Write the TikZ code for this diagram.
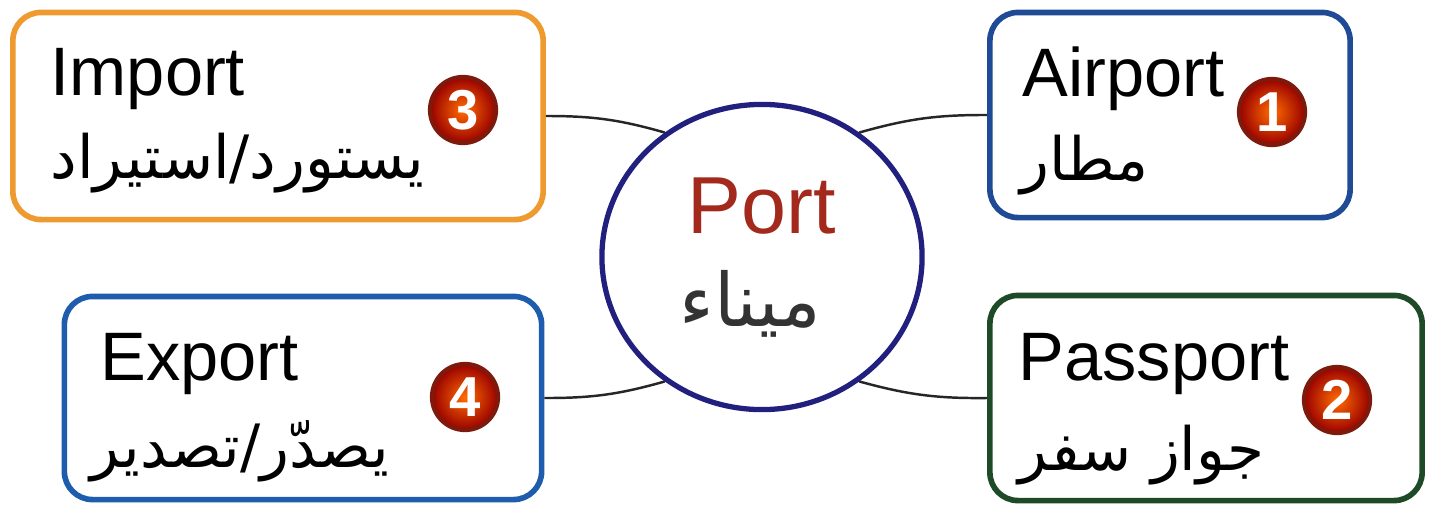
\documentclass[tikz,border=0pt]{standalone}
\usepackage{fontspec}
\setmainfont{Liberation Sans}
\newfontfamily\arabicfont[Script=Arabic]{DejaVu Sans}
\TeXXeTstate=1
\usepackage{tikz}
\usetikzlibrary{shapes.geometric}
\usetikzlibrary{positioning}
\definecolor{importorange}{HTML}{EE9A2E}
\definecolor{airportblue}{HTML}{1F4A96}
\definecolor{exportblue}{HTML}{1E5CAE}
\definecolor{passgreen}{HTML}{1E4A28}
\definecolor{portnavy}{HTML}{22207E}
\definecolor{portred}{HTML}{A3291C}
\definecolor{badgerim}{HTML}{7E1A0C}

\begin{document}
\begin{tikzpicture}[x=0.01cm,y=-0.01cm,
    topic/.style={draw, rounded corners=8pt, line width=1.6pt, fill=white},
    hub/.style={ellipse, draw=portnavy, line width=1.5pt, minimum width=3.20cm, minimum height=3.05cm},
    word/.style={anchor=base west, inner sep=0pt, font=\fontsize{19.5}{24}\selectfont},
    arab/.style={anchor=base west, inner sep=0pt, font=\fontsize{17}{21}\selectfont\arabicfont},
    badge/.style={circle, draw=badgerim, line width=1.2pt, inner color=orange!85!red, outer color=red!60!black, text=white, minimum size=0.66cm, inner sep=0pt, font=\bfseries\fontsize{16}{16}\selectfont},
    link/.style={line width=0.7pt, black!85}]
  \useasboundingbox (0,0) rectangle (1434,509);
  % the four boxes
  \node[topic, draw=importorange, minimum width=5.30cm, minimum height=2.07cm] (import) at (278,116) {};
  \node[topic, draw=exportblue, minimum width=4.77cm, minimum height=2.03cm] (export) at (303,398) {};
  \node[topic, draw=airportblue, minimum width=3.60cm, minimum height=2.05cm] (airport) at (1170,115) {};
  \node[topic, draw=passgreen, minimum width=4.32cm, minimum height=2.05cm] (passport) at (1206,398) {};
  % the hub
  \node[hub] (port) at (762,257) {};
  \node[anchor=base, inner sep=0pt, text=portred, font=\fontsize{23}{28}\selectfont] (portEn) at (762,233) {Port};
  \node[anchor=base, inner sep=0pt, text=black!80, font=\fontsize{21}{26}\selectfont\arabicfont] (portAr) at (750,326) {\beginR ميناء\endR};
  % texts
  \node[word] (importEn) at (50,95) {Import};
  \node[arab] (importAr) at (50,178) {\beginR يستورد/استيراد\endR};
  \node[word] (airportEn) at (1022,96) {Airport};
  \node[arab] (airportAr) at (1020,180) {\beginR مطار\endR};
  \node[word] (exportEn) at (100,380) {Export};
  \node[arab] (exportAr) at (90,467) {\beginR يصدّر/تصدير\endR};
  \node[word] (passportEn) at (1018,380) {Passport};
  \node[arab] (passportAr) at (1018,470) {\beginR جواز سفر\endR};
  % numbered badges
  \node[badge] (b1) at (1272,112) {1};
  \node[badge] (b2) at (1337,400) {2};
  \node[badge] (b3) at (463,110) {3};
  \node[badge] (b4) at (465,397) {4};
  % links to the hub
  \draw[link] (import.east) to[bend left=8] (port.128);
  \draw[link] (port.52) to[bend left=8] (airport.west);
  \draw[link] (export.east) to[bend right=8] (port.232);
  \draw[link] (port.308) to[bend right=8] (passport.west);
\end{tikzpicture}
\end{document}
